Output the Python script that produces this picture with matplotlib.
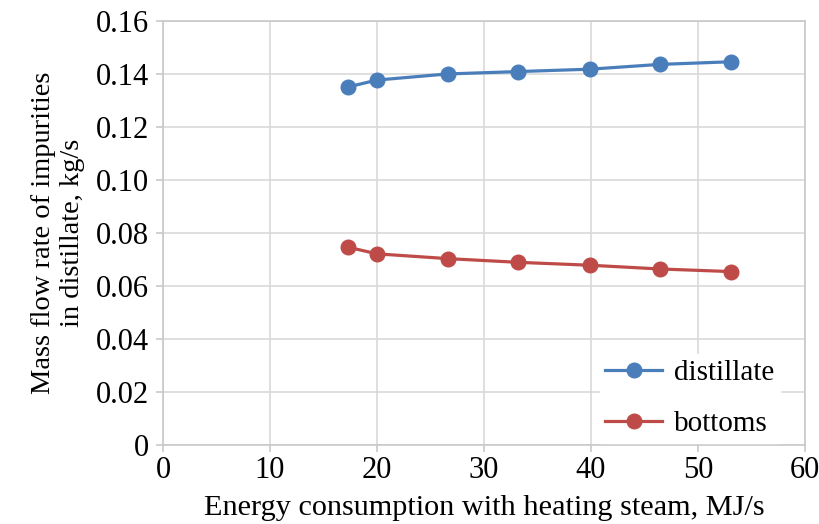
import matplotlib
matplotlib.use("Agg")
import matplotlib.pyplot as plt

energy = [17.3, 20.0, 26.6, 33.2, 39.9, 46.4, 53.1]
distillate = [0.1351, 0.1377, 0.1400, 0.1409, 0.1418, 0.1436, 0.1446]
bottoms = [0.0746, 0.0721, 0.0703, 0.0689, 0.0678, 0.0664, 0.0654]
xticks = [0, 10, 20, 30, 40, 50, 60]
yticks = [0, 0.02, 0.04, 0.06, 0.08, 0.10, 0.12, 0.14, 0.16]
ytick_labels = ["0", "0.02", "0.04", "0.06", "0.08", "0.10", "0.12", "0.14", "0.16"]

plt.rcParams['font.family'] = ['Liberation Serif', 'DejaVu Serif']

fig = plt.figure(figsize=(8.19, 5.24), dpi=100)
ax = fig.add_axes([0.199, 0.151, 0.784, 0.809])

blue = '#4a7ebb'
red = '#be4b48'
ax.plot(energy, distillate, '-o', color=blue, lw=2.3, ms=10.5, label='distillate', zorder=3)
ax.plot(energy, bottoms, '-o', color=red, lw=2.3, ms=10.5, label='bottoms', zorder=3)

ax.set_xlim(0, 60)
ax.set_ylim(0, 0.16)
ax.set_xticks(xticks)
ax.set_yticks(yticks)
ax.set_yticklabels(ytick_labels)
ax.grid(True, color='#d9d9d9', lw=1.2)
ax.set_axisbelow(True)
for s in ax.spines.values():
    s.set_color('#c8c8c8')
    s.set_linewidth(1.2)
    s.set_zorder(5)
ax.tick_params(axis='both', colors='#c8c8c8', labelcolor='black', labelsize=22, length=5, width=1.2)
ax.tick_params(axis='y', pad=5)
ax.tick_params(axis='x', pad=3)

ax.set_xlabel('Energy consumption with heating steam, MJ/s', fontsize=21.8, labelpad=7)
ax.set_ylabel('Mass flow rate of impurities\nin distillate, kg/s', fontsize=20.5, labelpad=8, linespacing=1.22)

leg = ax.legend(loc='lower right', bbox_to_anchor=(0.961, 0.004), fontsize=21, frameon=True,
                fancybox=False, edgecolor='white', framealpha=1, handlelength=1.95,
                handletextpad=0.4, borderaxespad=0.0, labelspacing=0.85, borderpad=0.2)

fig.savefig('out.png', dpi=100)
